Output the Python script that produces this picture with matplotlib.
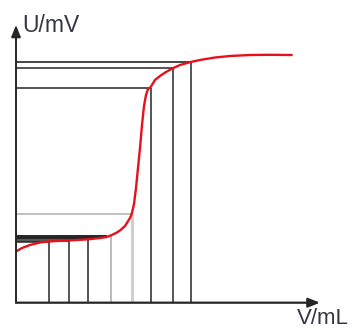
import matplotlib
matplotlib.use("Agg")
import matplotlib.pyplot as plt

# Titration curve (V in arbitrary units, U in arbitrary units; origin at axes corner)
V_curve = [0, 6, 14, 24, 33, 44, 52.7, 64, 72.3, 84, 90.7, 94.7, 100, 104, 109, 114,
           115.7, 118, 120, 122, 124, 126, 128, 130, 132, 134.7, 139, 144, 150,
           156.7, 164, 174.7, 184, 199, 214, 234, 254, 275.7]
U_curve = [51.2, 54.7, 57.7, 60.2, 61.2, 61.9, 62.2, 62.9, 63.4, 64.7, 65.7, 67.2,
           69.7, 72.2, 76.7, 84.7, 88.7, 98.7, 114.7, 134.7, 154.7, 177.7, 196.7,
           207.7, 213.7, 215.7, 222.7, 226.7, 230.7, 234.4, 237.7, 240.7, 242.7,
           245.2, 246.7, 247.7, 247.9, 247.7]

# Reading lines: (V, U) points where drop lines meet the curve
black_V = [33, 52.7, 72.3, 134.7, 156.7, 174.7]
black_U = [61.2, 62.2, 63.4, 214.7, 234.4, 240.7]
mid_V = [94.7]
mid_U = [67.2]
light_V = [115.7]
light_U = [88.7]
top_gray_V = [174.7]
top_gray_U = [241.0]
band_V = [84, 88, 90.7]
band_U = [64.7, 65.5, 66.7]

W, H = 352, 329
fig = plt.figure(figsize=(W / 100, H / 100), dpi=100)
x0, x1 = 16, 322
y0, y1 = 302.7, 25
ax = fig.add_axes([x0 / W, (H - y0) / H, (x1 - x0) / W, (y0 - y1) / H])
ax.set_xlim(0, x1 - x0)
ax.set_ylim(0, y0 - y1)
ax.set_axis_off()

dark = "#262626"
lw_black = 1.1

# verticals + horizontals
for v, u in zip(black_V, black_U):
    ax.plot([v, v], [0, u], color=dark, lw=lw_black, solid_capstyle="butt", zorder=2)
    ax.plot([0, v], [u, u], color=dark, lw=lw_black, solid_capstyle="butt", zorder=2)
for v, u in zip(band_V, band_U):
    ax.plot([0, v], [u, u], color=dark, lw=1.4, solid_capstyle="butt", zorder=2)
for v, u in zip(mid_V, mid_U):
    ax.plot([v, v], [0, u], color="#a8a8a8", lw=1.1, solid_capstyle="butt", zorder=1)
for v, u in zip(light_V, light_U):
    ax.plot([v, v], [0, u], color="#d0d0d0", lw=2.2, solid_capstyle="butt", zorder=1)
    ax.plot([0, v], [u, u], color="#b0b0b0", lw=1.1, solid_capstyle="butt", zorder=1)
for v, u in zip(top_gray_V, top_gray_U):
    ax.plot([0, v], [u, u], color="#b0b0b0", lw=1.1, solid_capstyle="butt", zorder=1)

# red curve
ax.plot(V_curve, U_curve, color="#e8101c", lw=1.7, zorder=4, solid_capstyle="round")

# axes with arrows
ax.annotate("", xy=(0, y0 - y1), xytext=(0, 0),
            arrowprops=dict(arrowstyle="-|>,head_width=0.28,head_length=0.7",
                            color=dark, lw=1.4, shrinkA=0, shrinkB=0), zorder=5)
ax.annotate("", xy=(x1 - x0 - 2, 0), xytext=(0, 0),
            arrowprops=dict(arrowstyle="-|>,head_width=0.28,head_length=0.7",
                            color=dark, lw=1.6, shrinkA=0, shrinkB=0), zorder=5)

fig.text(22 / W, 1 - 32 / H, "U/mV", fontsize=16.5, family="Liberation Sans",
         color="#353545", ha="left", va="baseline")
fig.text(349 / W, 1 - 324 / H, "V/mL", fontsize=16, family="Liberation Sans",
         color="#353545", ha="right", va="baseline")

fig.savefig("out.png", dpi=100)
